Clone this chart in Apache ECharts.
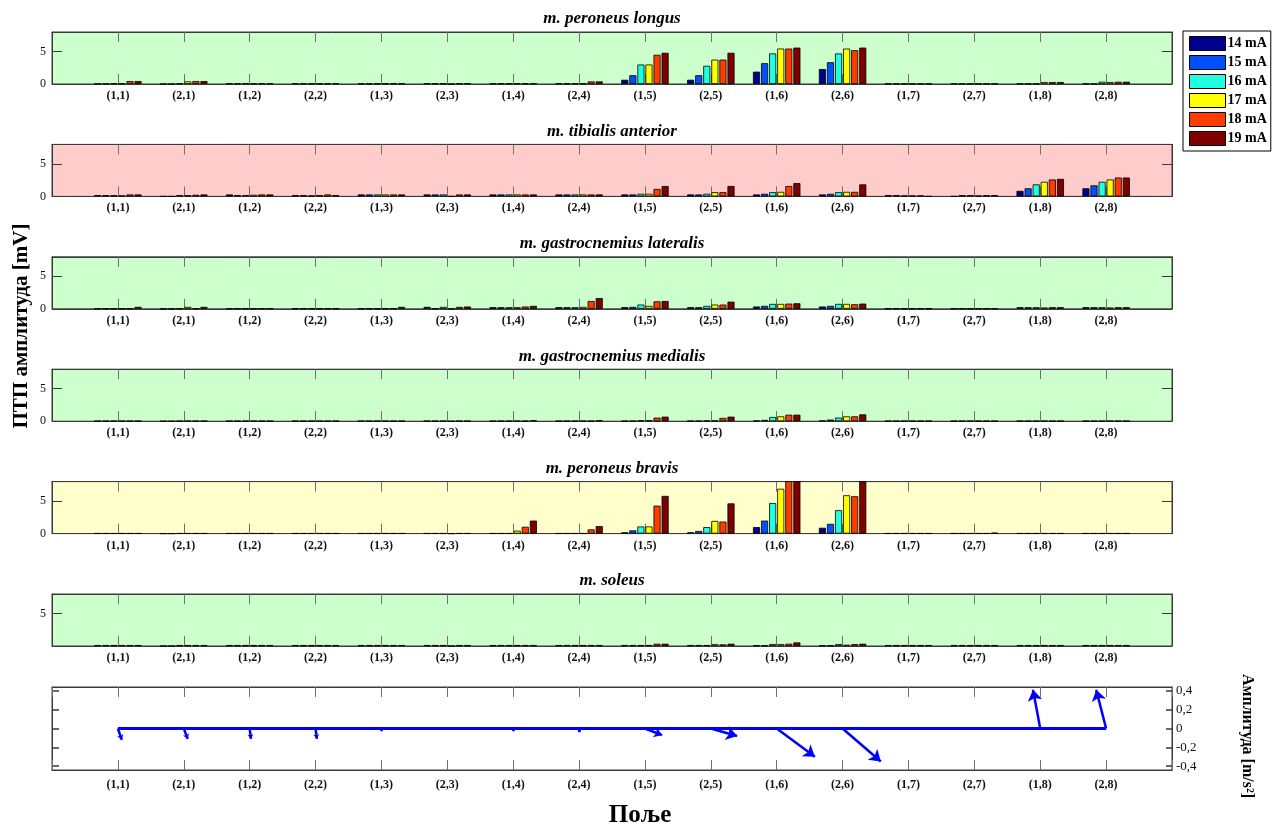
<!DOCTYPE html>
<html>
<head>
<meta charset="utf-8">
<script src="https://cdn.jsdelivr.net/npm/echarts@6/dist/echarts.min.js"></script>
<style>
  html, body { margin: 0; padding: 0; background: #fff; }
  #chart { width: 1277px; height: 827px; }
</style>
</head>
<body>
<div id="chart"></div>
<script>
// Stimulation fields (electrode pairs) along the x axis
const fields = ['(1,1)', '(2,1)', '(1,2)', '(2,2)', '(1,3)', '(2,3)', '(1,4)', '(2,4)',
                '(1,5)', '(2,5)', '(1,6)', '(2,6)', '(1,7)', '(2,7)', '(1,8)', '(2,8)'];

// Stimulation currents (one bar per current in each field group)
const currents = ['14 mA', '15 mA', '16 mA', '17 mA', '18 mA', '19 mA'];
const currentColors = ['#00008f', '#0050ff', '#20ffdf', '#ffff00', '#ff3c00', '#800000'];

// PTP amplitude [mV] per field; each row = [14, 15, 16, 17, 18, 19 mA]
const peroneusLongus = [
  [0.05, 0.05, 0.08, 0.08, 0.45, 0.45],
  [0, 0, 0.1, 0.4, 0.45, 0.45],
  [0.08, 0.08, 0.08, 0.08, 0.08, 0.08],
  [0.08, 0.08, 0.08, 0.08, 0.08, 0.08],
  [0.08, 0.08, 0.08, 0.08, 0.08, 0.08],
  [0.08, 0.08, 0.08, 0, 0.08, 0.08],
  [0.08, 0.08, 0.08, 0.08, 0.08, 0.08],
  [0.08, 0.08, 0.08, 0.08, 0.4, 0.4],
  [0.65, 1.35, 3.0, 3.0, 4.5, 4.8],
  [0.65, 1.35, 2.8, 3.75, 3.75, 4.8],
  [1.9, 3.2, 4.7, 5.45, 5.45, 5.6],
  [2.3, 3.35, 4.7, 5.45, 5.2, 5.6],
  [0.05, 0.05, 0.05, 0.05, 0.05, 0.05],
  [0.05, 0.05, 0.05, 0.05, 0.05, 0.05],
  [0.05, 0.05, 0.05, 0.3, 0.3, 0.3],
  [0.05, 0.05, 0.35, 0.3, 0.35, 0.35]
];

const tibialisAnterior = [
  [0.2, 0.2, 0.2, 0.15, 0.3, 0.3],
  [0, 0, 0.2, 0.2, 0.25, 0.3],
  [0.3, 0.2, 0.2, 0.25, 0.3, 0.3],
  [0.2, 0.2, 0.15, 0.2, 0.3, 0.2],
  [0.3, 0.3, 0.3, 0.3, 0.3, 0.3],
  [0.3, 0.3, 0.3, 0, 0.3, 0.3],
  [0.3, 0.3, 0.3, 0.3, 0.3, 0.3],
  [0.3, 0.3, 0.3, 0.3, 0.3, 0.3],
  [0.3, 0.3, 0.4, 0.4, 1.15, 1.6],
  [0.3, 0.3, 0.4, 0.65, 0.65, 1.6],
  [0.3, 0.4, 0.65, 0.7, 1.6, 2.05],
  [0.3, 0.4, 0.65, 0.7, 0.7, 1.85],
  [0.2, 0.2, 0.15, 0.15, 0.15, 0],
  [0, 0.2, 0.2, 0.15, 0.2, 0.2],
  [0.85, 1.25, 1.85, 2.25, 2.6, 2.7],
  [1.25, 1.7, 2.25, 2.6, 2.9, 2.9]
];

const gastrocLateralis = [
  [0.03, 0.03, 0.03, 0.03, 0.03, 0.3],
  [0, 0, 0.03, 0.3, 0.03, 0.3],
  [0.03, 0.03, 0.03, 0.03, 0.03, 0.03],
  [0.03, 0.03, 0.03, 0.03, 0.03, 0.03],
  [0.03, 0.03, 0.03, 0.03, 0.03, 0.3],
  [0.3, 0.03, 0.3, 0, 0.3, 0.35],
  [0.25, 0.25, 0.25, 0.25, 0.35, 0.45],
  [0.25, 0.25, 0.25, 0.3, 1.2, 1.65],
  [0.25, 0.3, 0.65, 0.45, 1.15, 1.2],
  [0.25, 0.25, 0.45, 0.65, 0.65, 1.1],
  [0.35, 0.45, 0.75, 0.75, 0.8, 0.85],
  [0.35, 0.45, 0.75, 0.75, 0.7, 0.8],
  [0.03, 0.03, 0.03, 0.03, 0.03, 0.03],
  [0.03, 0.03, 0.03, 0.03, 0.03, 0.03],
  [0.25, 0.25, 0.25, 0.2, 0.25, 0.25],
  [0.25, 0.25, 0.25, 0.2, 0.25, 0.25]
];

const gastrocMedialis = [
  [0.05, 0.05, 0.05, 0.05, 0.05, 0.05],
  [0, 0, 0.05, 0.05, 0.05, 0.05],
  [0.05, 0.05, 0.05, 0.05, 0.05, 0.05],
  [0.05, 0.05, 0.05, 0.05, 0.05, 0.05],
  [0.05, 0.05, 0.05, 0.05, 0.05, 0.05],
  [0.05, 0.05, 0.05, 0, 0.05, 0.05],
  [0.05, 0.05, 0.05, 0.05, 0.05, 0.15],
  [0.05, 0.05, 0.05, 0.05, 0.05, 0.15],
  [0.05, 0.05, 0.15, 0.15, 0.55, 0.7],
  [0.05, 0.05, 0.1, 0.1, 0.5, 0.7],
  [0.1, 0.2, 0.65, 0.75, 1.0, 1.0],
  [0.1, 0.25, 0.55, 0.75, 0.75, 1.05],
  [0.05, 0.05, 0.05, 0.05, 0.05, 0.05],
  [0.05, 0.05, 0.05, 0.05, 0.05, 0.05],
  [0.05, 0.05, 0.05, 0.05, 0.05, 0.05],
  [0.05, 0.05, 0.05, 0.05, 0.05, 0.05]
];

const peroneusBrevis = [
  [0.05, 0.05, 0.05, 0.05, 0.05, 0.05],
  [0, 0, 0.05, 0.05, 0.05, 0.05],
  [0.05, 0.05, 0.05, 0.05, 0.05, 0.05],
  [0.05, 0.05, 0.05, 0.05, 0.05, 0.05],
  [0.05, 0.05, 0.05, 0.05, 0.05, 0.05],
  [0.05, 0.05, 0.05, 0, 0.05, 0.05],
  [0.05, 0.05, 0.05, 0.45, 1.05, 2.0],
  [0.05, 0.05, 0.05, 0.05, 0.65, 1.15],
  [0.2, 0.5, 1.1, 1.1, 4.3, 5.8],
  [0.2, 0.4, 1.0, 1.95, 1.85, 4.65],
  [1.0, 2.0, 4.7, 6.9, 8.3, 8.6],
  [0.9, 1.5, 3.6, 5.9, 5.75, 8.8],
  [0.05, 0.05, 0.05, 0.05, 0.05, 0.05],
  [0.05, 0.05, 0.05, 0.05, 0.05, 0.15],
  [0.05, 0.05, 0.05, 0.05, 0.05, 0.05],
  [0.05, 0.05, 0.05, 0.05, 0.05, 0.05]
];

const soleus = [
  [0.15, 0.15, 0.15, 0.15, 0.15, 0.15],
  [0, 0, 0.15, 0.15, 0.15, 0.15],
  [0.15, 0.15, 0.15, 0.15, 0.15, 0.15],
  [0.15, 0.15, 0.15, 0.15, 0.15, 0.15],
  [0.15, 0.15, 0.15, 0.15, 0.15, 0.15],
  [0.15, 0.15, 0.15, 0, 0.15, 0.15],
  [0.15, 0.15, 0.15, 0.15, 0.15, 0.15],
  [0.15, 0.15, 0.15, 0.15, 0.15, 0.15],
  [0.15, 0.15, 0.15, 0.15, 0.35, 0.35],
  [0.15, 0.15, 0.15, 0.3, 0.25, 0.35],
  [0.1, 0.1, 0.3, 0.3, 0.35, 0.55],
  [0.1, 0.1, 0.3, 0.2, 0.3, 0.35],
  [0.15, 0.15, 0.15, 0.15, 0.15, 0.15],
  [0.15, 0.15, 0.15, 0.15, 0.15, 0.15],
  [0.15, 0.15, 0.15, 0.15, 0.15, 0.15],
  [0.15, 0.15, 0.15, 0.15, 0.15, 0.15]
];

// Foot movement vector per field (horizontal / vertical component, m/s^2)
const quiverU = [0.06, 0.06, 0.02, 0.02, 0, 0, 0, 0, 0.26, 0.4, 0.58, 0.58, 0, 0, -0.11, -0.15];
const quiverV = [-0.12, -0.11, -0.11, -0.11, -0.03, -0.005, -0.03, -0.04, -0.07, -0.08, -0.3, -0.35, -0.01, -0.01, 0.41, 0.41];

// Y tick labels of the acceleration panel
const accelTicks = [-0.4, -0.2, 0, 0.2, 0.4];

const muscles = [
  { title: 'm. peroneus longus', values: peroneusLongus, bg: '#ccffcc', ticks: [0, 5] },
  { title: 'm. tibialis anterior', values: tibialisAnterior, bg: '#ffcccc', ticks: [0, 5] },
  { title: 'm. gastrocnemius lateralis', values: gastrocLateralis, bg: '#ccffcc', ticks: [0, 5] },
  { title: 'm. gastrocnemius medialis', values: gastrocMedialis, bg: '#ccffcc', ticks: [0, 5] },
  { title: 'm. peroneus bravis', values: peroneusBrevis, bg: '#ffffcc', ticks: [0, 5] },
  { title: 'm. soleus', values: soleus, bg: '#ccffcc', ticks: [5] }
];

const SERIF = '"Liberation Serif", "DejaVu Serif", serif';
const PLOT_LEFT = 52, PLOT_RIGHT = 105;
const PANEL_TOP0 = 32, PANEL_STEP = 112.4, PANEL_H = 52;
const YMAX = 8;

const catData = [''].concat(fields, ['']);
const innerTick = (idx) => idx > 0 && idx <= fields.length;
const frameLine = { show: true, onZero: false, lineStyle: { color: '#3a3a3a', width: 1 } };

const grids = [], xAxes = [], yAxes = [], series = [], graphics = [];

muscles.forEach((m, i) => {
  const top = PANEL_TOP0 + i * PANEL_STEP;
  grids.push({
    left: PLOT_LEFT, right: PLOT_RIGHT, top: top, height: PANEL_H,
    show: true, backgroundColor: m.bg, borderColor: '#3a3a3a', borderWidth: 1
  });
  const baseX = {
    gridIndex: i, type: 'category', data: catData, boundaryGap: false,
    axisLine: frameLine,
    axisTick: { show: true, inside: true, length: 10, interval: innerTick, lineStyle: { color: '#707070' } },
    splitLine: { show: false }
  };
  xAxes.push(Object.assign({}, baseX, {
    position: 'bottom',
    axisLabel: { interval: 0, margin: 6, fontFamily: SERIF, fontWeight: 'bold', fontSize: 12, color: '#111' }
  }));
  xAxes.push(Object.assign({}, baseX, { position: 'top', axisLabel: { show: false } }));
  const baseY = {
    gridIndex: i, type: 'value', min: 0, max: YMAX,
    axisLine: frameLine,
    axisTick: { show: true, inside: true, length: 10, customValues: [5], lineStyle: { color: '#3a3a3a' } },
    splitLine: { show: false }
  };
  yAxes.push(Object.assign({}, baseY, {
    position: 'left',
    axisLabel: { customValues: m.ticks, margin: 6, fontFamily: SERIF, fontSize: 12, color: '#111' }
  }));
  yAxes.push(Object.assign({}, baseY, { position: 'right', axisLabel: { show: false } }));

  currents.forEach((c, k) => {
    series.push({
      type: 'bar', name: c,
      xAxisIndex: 2 * i, yAxisIndex: 2 * i,
      data: ['-'].concat(m.values.map(g => g[k]), ['-']),
      barCategoryGap: '28%', barGap: '14%',
      clip: true, silent: true,
      itemStyle: { color: currentColors[k], borderColor: '#000', borderWidth: 0.8 }
    });
  });

  graphics.push({
    type: 'text', x: PLOT_LEFT + (1277 - PLOT_LEFT - PLOT_RIGHT) / 2, y: top - 13,
    style: {
      text: m.title, align: 'center', verticalAlign: 'middle',
      fontFamily: SERIF, fontStyle: 'italic', fontWeight: 'bold', fontSize: 17, fill: '#000'
    }
  });
});

// Acceleration (quiver) panel
const qi = muscles.length;
grids.push({
  left: PLOT_LEFT, right: PLOT_RIGHT, top: 687, height: 83,
  show: true, backgroundColor: '#fff', borderColor: '#3a3a3a', borderWidth: 1
});
const qBaseX = {
  gridIndex: qi, type: 'value', min: 0, max: fields.length + 1, interval: 1,
  axisLine: frameLine,
  axisTick: { show: true, inside: true, length: 10, lineStyle: { color: '#707070' } },
  splitLine: { show: false }
};
xAxes.push(Object.assign({}, qBaseX, {
  position: 'bottom',
  axisLabel: {
    margin: 9, fontFamily: SERIF, fontWeight: 'bold', fontSize: 12, color: '#111',
    formatter: v => fields[v - 1] || ''
  }
}));
xAxes.push(Object.assign({}, qBaseX, { position: 'top', axisLabel: { show: false } }));
yAxes.push({
  gridIndex: qi, type: 'value', min: -0.44, max: 0.44, position: 'left',
  axisLine: frameLine,
  axisTick: { show: true, inside: true, length: 7, customValues: accelTicks, lineStyle: { color: '#3a3a3a', width: 1.5 } },
  axisLabel: { show: false },
  splitLine: { show: false }
});
yAxes.push({
  gridIndex: qi, type: 'value', min: -0.44, max: 0.44, position: 'right',
  axisLine: frameLine,
  axisTick: { show: true, inside: true, length: 6, customValues: accelTicks, lineStyle: { color: '#3a3a3a', width: 1.5 } },
  axisLabel: {
    customValues: accelTicks, margin: 4, fontFamily: SERIF, fontSize: 13, color: '#111',
    formatter: v => String(Math.round(v * 10) / 10).replace('.', ',')
  },
  splitLine: { show: false }
});

series.push({
  type: 'line', xAxisIndex: 2 * qi, yAxisIndex: 2 * qi, silent: true,
  data: fields.map((f, k) => [k + 1, 0]),
  symbol: 'none', lineStyle: { color: '#0000ff', width: 3 }
});
series.push({
  type: 'lines', coordinateSystem: 'cartesian2d', xAxisIndex: 2 * qi, yAxisIndex: 2 * qi, silent: true,
  data: fields.map((f, k) => {
    const len = Math.hypot(quiverU[k], quiverV[k]);
    const head = Math.min(11, 2 + 22 * len);
    return {
      coords: [[k + 1, 0], [k + 1 + quiverU[k], quiverV[k]]],
      symbol: ['none', 'arrow'], symbolSize: [0, head]
    };
  }),
  lineStyle: { color: '#0000ff', width: 2.5, opacity: 1 }
});

// Axis names
graphics.push({
  type: 'text', x: 22, y: 326, rotation: Math.PI / 2,
  style: { text: 'ПТП амплитуда [mV]', align: 'center', verticalAlign: 'middle',
           fontFamily: SERIF, fontWeight: 'bold', fontSize: 21, fill: '#000' }
});
graphics.push({
  type: 'text', x: 1247, y: 736, rotation: -Math.PI / 2,
  style: { text: 'Амплитуда [m/s²]', align: 'center', verticalAlign: 'middle',
           fontFamily: SERIF, fontWeight: 'bold', fontSize: 16, fill: '#000' }
});
graphics.push({
  type: 'text', x: 640, y: 816,
  style: { text: 'Поље', align: 'center', verticalAlign: 'middle',
           fontFamily: SERIF, fontWeight: 'bold', fontSize: 25, fill: '#000' }
});

const chart = echarts.init(document.getElementById('chart'), null, { renderer: 'canvas' });
chart.setOption({
  animation: false,
  backgroundColor: '#fff',
  legend: {
    data: currents, orient: 'vertical', left: 1183, top: 31,
    itemWidth: 36, itemHeight: 14, itemGap: 4, padding: [5, 4, 5, 6],
    icon: 'rect', selectedMode: false,
    backgroundColor: '#fff', borderColor: '#000', borderWidth: 1,
    itemStyle: { borderColor: '#000', borderWidth: 1 },
    textStyle: { fontFamily: SERIF, fontWeight: 'bold', fontSize: 14, color: '#000', padding: [0, 0, 0, -3] }
  },
  grid: grids,
  xAxis: xAxes,
  yAxis: yAxes,
  series: series,
  graphic: graphics
});
</script>
</body>
</html>
